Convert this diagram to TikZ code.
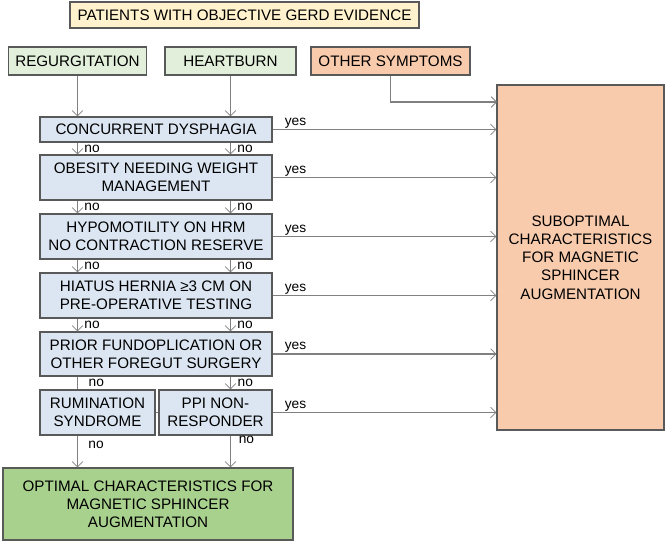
\documentclass[tikz,border=0pt]{standalone}
\usepackage{fontspec}
\setmainfont{Liberation Sans}
\usetikzlibrary{arrows.meta}
\definecolor{yel}{HTML}{FFF2CC}
\definecolor{lgreen}{HTML}{E2EFDA}
\definecolor{peach}{HTML}{F8CBAD}
\definecolor{lblue}{HTML}{DCE6F2}
\definecolor{dgreen}{HTML}{A9D18E}
\definecolor{bord}{HTML}{595959}
\definecolor{conn}{HTML}{808080}
\tikzset{
  x=0.75pt, y=-0.75pt,
  box/.style={draw=bord, line width=0.8pt, align=center, inner sep=2pt,
    font=\fontsize{11.4}{13.6}\selectfont},
  arr/.style={draw=conn, line width=0.8pt, -{Straight Barb[length=4pt,width=8pt,line width=0.6pt]}},
  ln/.style={draw=conn, line width=0.8pt},
  lab/.style={font=\fontsize{10.3}{11}\selectfont, inner sep=1pt}
}
\begin{document}
\begin{tikzpicture}
\useasboundingbox (0,0) rectangle (666,543);
\node[box, fill=yel, minimum width=349*0.75pt, minimum height=26*0.75pt] (top) at (244.5,15) {PATIENTS WITH OBJECTIVE GERD EVIDENCE};
\node[box, fill=lgreen, minimum width=138*0.75pt, minimum height=28*0.75pt] (reg) at (77.5,61) {REGURGITATION};
\node[box, fill=lgreen, minimum width=131*0.75pt, minimum height=28*0.75pt] (hb) at (230.5,61) {HEARTBURN};
\node[box, fill=peach, minimum width=159*0.75pt, minimum height=28*0.75pt] (oth) at (390.5,61) {OTHER SYMPTOMS};
\node[box, fill=peach, minimum width=167*0.75pt, minimum height=345*0.75pt] (sub) at (580.5,257.5) {SUBOPTIMAL\\CHARACTERISTICS\\FOR MAGNETIC\\SPHINCER\\AUGMENTATION};
\node[box, fill=lblue, minimum width=232*0.75pt, minimum height=25*0.75pt] (conc) at (156,129.5) {CONCURRENT DYSPHAGIA};
\node[box, fill=lblue, minimum width=232*0.75pt, minimum height=45*0.75pt] (obes) at (156,177.5) {OBESITY NEEDING WEIGHT\\MANAGEMENT};
\node[box, fill=lblue, minimum width=232*0.75pt, minimum height=45*0.75pt] (hypo) at (156,236.5) {HYPOMOTILITY ON HRM\\NO CONTRACTION RESERVE};
\node[box, fill=lblue, minimum width=232*0.75pt, minimum height=45*0.75pt] (hia) at (156,295.5) {HIATUS HERNIA ≥3 CM ON\\PRE-OPERATIVE TESTING};
\node[box, fill=lblue, minimum width=232*0.75pt, minimum height=44*0.75pt] (pri) at (156,354) {PRIOR FUNDOPLICATION OR\\OTHER FOREGUT SURGERY};
\node[box, fill=lblue, minimum width=115*0.75pt, minimum height=45*0.75pt] (rum) at (97.5,412.5) {RUMINATION\\SYNDROME};
\node[box, fill=lblue, minimum width=113*0.75pt, minimum height=45*0.75pt] (ppi) at (215.5,412.5) {PPI NON-\\RESPONDER};
\node[box, fill=dgreen, minimum width=290*0.75pt, minimum height=72*0.75pt] (opt) at (148,504) {OPTIMAL CHARACTERISTICS FOR\\MAGNETIC SPHINCER\\AUGMENTATION};
% entry arrows
\draw[arr] (reg.south) -- (reg.south |- conc.north);
\draw[arr] (hb.south) -- (hb.south |- conc.north);
\coordinate (osin) at (497,102);
\draw[arr] (oth.south) |- (osin);
% no arrows between blue boxes
\foreach \a/\b in {conc/obes, obes/hypo, hypo/hia, hia/pri}{
  \draw[arr] (\a.south -| reg.south) -- (\b.north -| reg.south);
  \draw[arr] (\a.south -| hb.south) -- (\b.north -| hb.south);
  \path (\a.south -| reg.south) -- (\b.north -| reg.south) node[midway, lab, anchor=west, xshift=4pt] {no};
  \path (\a.south -| hb.south) -- (\b.north -| hb.south) node[midway, lab, anchor=west, xshift=4pt] {no};
}
\draw[ln] (pri.south -| reg.south) -- (rum.north -| reg.south) node[midway, lab, anchor=west, xshift=7pt] {no};
\draw[arr] (pri.south -| hb.south) -- (ppi.north -| hb.south) node[midway, lab, anchor=west, xshift=4pt] {no};
\draw[arr] (rum.south -| reg.south) -- (opt.north -| reg.south);
\path (rum.south -| reg.south) -- (opt.north -| reg.south) node[pos=0.3, lab, anchor=west, xshift=7pt] {no};
\draw[arr] (ppi.south -| hb.south) -- (opt.north -| hb.south);
\path (ppi.south -| hb.south) -- (opt.north -| hb.south) node[pos=0.15, lab, anchor=west, xshift=5pt] {no};
% yes arrows
\foreach \a in {conc, obes, hypo, hia, pri, ppi}{
  \draw[arr] (\a.east) -- (\a.east -| sub.west);
  \node[lab, anchor=south west] at ([xshift=8pt]\a.east) {yes};
}
\draw[ln] (rum.east) -- (ppi.west);
\end{tikzpicture}
\end{document}
